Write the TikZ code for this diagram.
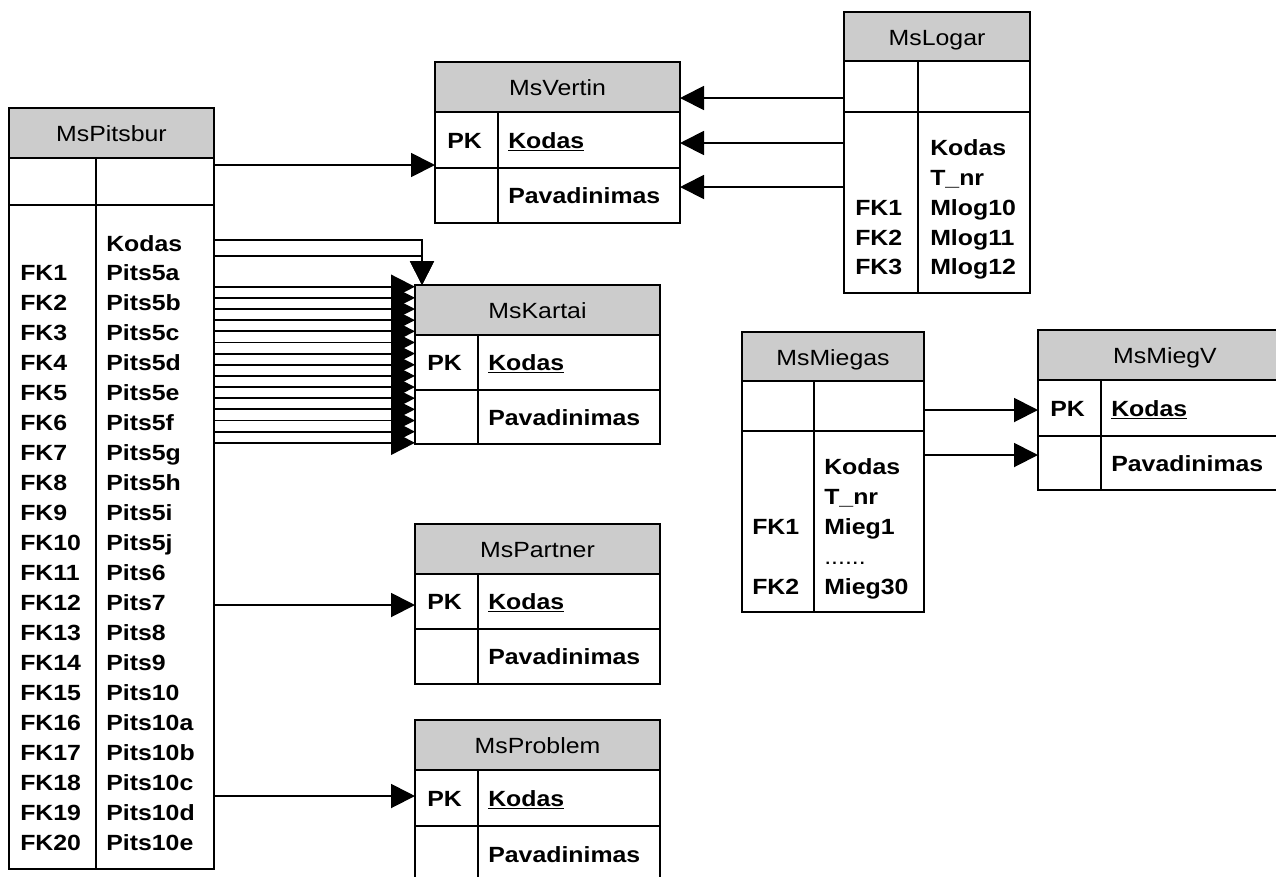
\documentclass[tikz,border=0pt]{standalone}
\usepackage{fontspec}
\setmainfont{Liberation Sans}[FakeStretch=1.13]
\usetikzlibrary{arrows.meta,calc,fit}

\definecolor{hdrgray}{RGB}{204,204,204}

\tikzset{
  frame/.style={draw=black, line width=1.1pt},
  ttl/.style={font=\fontsize{16.5}{18}\selectfont, inner sep=0pt, anchor=base},
  fld/.style={font=\fontsize{16.5}{18}\selectfont\bfseries, inner sep=0pt, anchor=base west},
  fk/.style={line width=1.4pt, -{Triangle[length=18pt,width=18pt]}},
}

% one entity box: #1 name, #2 left, #3 top, #4 right, #5 bottom,
% #6 header bottom, #7 first row bottom, #8 column divider, #9 title
\newcommand\ertable[9]{%
  \fill[hdrgray] (#2,#3) rectangle (#4,#6);
  \draw[frame] (#2,#6) -- (#4,#6) (#2,#7) -- (#4,#7) (#8,#6) -- (#8,#5);
  \coordinate (#1-nw) at (#2,#3);
  \coordinate (#1-se) at (#4,#5);
  \node[fit=(#1-nw)(#1-se), inner sep=0pt, outer sep=0pt, frame] (#1) {};
  \node[ttl] (#1-title) at ({(#2+#4)/2},{#3+33}) {#9};
}
% a field text, vertically centred on #3
\newcommand\fieldtxt[4]{\node[fld] (#1) at (#2,{#3+8}) {#4};}
\newcommand\keyul[1]{\underline{#1}}

\begin{document}
\begin{tikzpicture}[x=0.75pt,y=-0.75pt]
\useasboundingbox (0,0) rectangle (1276,876);
\clip (0,0) rectangle (1276,876);
\fill[white] (0,0) rectangle (1276,876);

% ---- MsPitsbur ----
\ertable{pits}{9}{108}{214}{869}{158}{205}{96}{MsPitsbur}
\fieldtxt{pits-f0}{106}{243}{Kodas}
\foreach \k/\v [count=\i] in {FK1/Pits5a,FK2/Pits5b,FK3/Pits5c,FK4/Pits5d,FK5/Pits5e,
  FK6/Pits5f,FK7/Pits5g,FK8/Pits5h,FK9/Pits5i,FK10/Pits5j,FK11/Pits6,FK12/Pits7,
  FK13/Pits8,FK14/Pits9,FK15/Pits10,FK16/Pits10a,FK17/Pits10b,FK18/Pits10c,
  FK19/Pits10d,FK20/Pits10e}{
  \node[fld] (pits-k\i) at (20,{243+29.97*\i+8}) {\k};
  \node[fld] (pits-f\i) at (106,{243+29.97*\i+8}) {\v};
}

% ---- MsVertin ----
\ertable{vertin}{435}{62}{680}{223}{112}{168}{498}{MsVertin}
\fieldtxt{vertin-pk}{447}{140}{PK}
\fieldtxt{vertin-f1}{508}{140}{\keyul{Kodas}}
\fieldtxt{vertin-f2}{508}{195}{Pavadinimas}

% ---- MsLogar ----
\ertable{logar}{844}{12}{1030}{293}{61}{112}{918}{MsLogar}
\fieldtxt{logar-f0}{930}{147}{Kodas}
\fieldtxt{logar-f1}{930}{177}{T\_nr}
\fieldtxt{logar-k2}{855}{207}{FK1}
\fieldtxt{logar-f2}{930}{207}{Mlog10}
\fieldtxt{logar-k3}{855}{237}{FK2}
\fieldtxt{logar-f3}{930}{237}{Mlog11}
\fieldtxt{logar-k4}{855}{266}{FK3}
\fieldtxt{logar-f4}{930}{266}{Mlog12}

% ---- MsKartai ----
\ertable{kartai}{415}{285}{660}{444}{335}{390}{478}{MsKartai}
\fieldtxt{kartai-pk}{427}{362}{PK}
\fieldtxt{kartai-f1}{488}{362}{\keyul{Kodas}}
\fieldtxt{kartai-f2}{488}{417}{Pavadinimas}

% ---- MsPartner ----
\ertable{partner}{415}{524}{660}{684}{574}{629}{478}{MsPartner}
\fieldtxt{partner-pk}{427}{601}{PK}
\fieldtxt{partner-f1}{488}{601}{\keyul{Kodas}}
\fieldtxt{partner-f2}{488}{656}{Pavadinimas}

% ---- MsProblem ----
\ertable{problem}{415}{720}{660}{884}{770}{826}{478}{MsProblem}
\fieldtxt{problem-pk}{427}{798}{PK}
\fieldtxt{problem-f1}{488}{798}{\keyul{Kodas}}
\fieldtxt{problem-f2}{488}{854}{Pavadinimas}

% ---- MsMiegas ----
\ertable{miegas}{742}{332}{924}{612}{381}{431}{814}{MsMiegas}
\fieldtxt{miegas-f0}{824}{466}{Kodas}
\fieldtxt{miegas-f1}{824}{496}{T\_nr}
\fieldtxt{miegas-k2}{752}{526}{FK1}
\fieldtxt{miegas-f2}{824}{526}{Mieg1}
\node[fld, font=\fontsize{16.5}{18}\selectfont] (miegas-f3) at (824,{556+8}) {......};
\fieldtxt{miegas-k4}{752}{586}{FK2}
\fieldtxt{miegas-f4}{824}{586}{Mieg30}

% ---- MsMiegV ----
\ertable{miegv}{1038}{330}{1292}{490}{380}{436}{1101}{MsMiegV}
\fieldtxt{miegv-pk}{1050}{408}{PK}
\fieldtxt{miegv-f1}{1111}{408}{\keyul{Kodas}}
\fieldtxt{miegv-f2}{1111}{463}{Pavadinimas}

% ---- relationships ----
\draw[fk] ($(pits.north east)+(0,57)$) -- ($(vertin.north west)+(0,103)$);
\foreach \d in {86,131,175}
  \draw[fk] ($(logar.north west)+(0,\d)$) -- ($(vertin.north east)+(0,{\d-50})$);
\draw[fk] ($(pits.north east)+(0,132)$) -| ($(kartai.north west)+(7,0)$);
\draw[fk] ($(pits.north east)+(0,148)$) -| ($(kartai.north west)+(7,0)$);
\foreach \j in {0,...,14}
  \draw[fk] ($(pits.north east)+(0,{178.7+11.15*\j})$) -- ($(kartai.north west)+(0,{1.7+11.15*\j})$);
\draw[fk] ($(pits.north east)+(0,497)$) -- ($(partner.north west)+(0,81)$);
\draw[fk] ($(pits.north east)+(0,688)$) -- ($(problem.north west)+(0,76)$);
\draw[fk] ($(miegas.north east)+(0,78)$) -- ($(miegv.north west)+(0,80)$);
\draw[fk] ($(miegas.north east)+(0,123)$) -- ($(miegv.north west)+(0,125)$);
\end{tikzpicture}
\end{document}
